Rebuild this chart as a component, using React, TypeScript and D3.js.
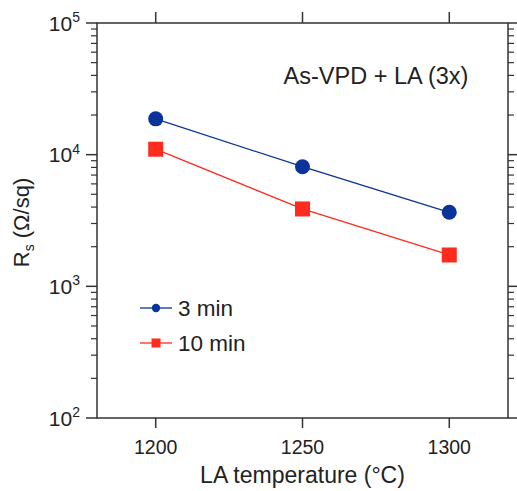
import React from "react";
import * as d3 from "d3";

// LA temperature (°C)
const temperatures = [1200, 1250, 1300];
// sheet resistance Rs (Ω/sq)
const rs3min = [18700, 8100, 3650];
const rs10min = [11000, 3870, 1730];
const xTicks = [1200, 1250, 1300];
const yMajor = [100, 1000, 10000, 100000];

const W = 517;
const H = 491;
const frame = { left: 97, right: 508, top: 23, bottom: 418 };
const font = "'Liberation Sans', Arial, Helvetica, sans-serif";
const axisColor = "#333";
const blue = "#0a3499";
const red = "#ff2b1e";

export default function App() {
  const x = d3.scaleLinear().domain([1180, 1320]).range([frame.left, frame.right]);
  const y = d3.scaleLog().domain([100, 100000]).range([frame.bottom, frame.top]);

  // minor ticks 2..9 in each decade
  const yMinor: number[] = [];
  for (let d = 100; d < 100000; d *= 10) {
    for (let k = 2; k <= 9; k++) yMinor.push(d * k);
  }

  const line = d3
    .line<number>()
    .x((_, i) => x(temperatures[i]))
    .y((d) => y(d));

  const series = [
    { name: "3 min", values: rs3min, color: blue, shape: "circle" },
    { name: "10 min", values: rs10min, color: red, shape: "square" },
  ];

  const legendY = [308, 343];

  return (
    <svg
      width={W}
      height={H}
      style={{ position: "absolute", left: 0, top: 0, background: "#fff" }}
      fontFamily={font}
    >
      {/* frame */}
      <rect
        x={frame.left}
        y={frame.top}
        width={frame.right - frame.left}
        height={frame.bottom - frame.top}
        fill="none"
        stroke={axisColor}
        strokeWidth={1.5}
      />

      {/* y ticks, left and right, outward */}
      {yMajor.map((v) => (
        <g key={"M" + v}>
          <line x1={frame.left - 11} x2={frame.left} y1={y(v)} y2={y(v)} stroke={axisColor} strokeWidth={1.5} />
          <line x1={frame.right} x2={frame.right + 11} y1={y(v)} y2={y(v)} stroke={axisColor} strokeWidth={1.5} />
          <text x={80} y={y(v) + 7.5} textAnchor="end" fontSize={21} fill="#222">
            10
            <tspan fontSize={14} dy={-8.5}>
              {Math.round(Math.log10(v))}
            </tspan>
          </text>
        </g>
      ))}
      {yMinor.map((v) => (
        <g key={"m" + v}>
          <line x1={frame.left - 6} x2={frame.left} y1={y(v)} y2={y(v)} stroke={axisColor} strokeWidth={1.2} />
          <line x1={frame.right} x2={frame.right + 6} y1={y(v)} y2={y(v)} stroke={axisColor} strokeWidth={1.2} />
        </g>
      ))}

      {/* x ticks, top and bottom, outward */}
      {xTicks.map((t) => (
        <g key={"x" + t}>
          <line x1={x(t)} x2={x(t)} y1={frame.top - 11} y2={frame.top} stroke={axisColor} strokeWidth={1.5} />
          <line x1={x(t)} x2={x(t)} y1={frame.bottom} y2={frame.bottom + 10} stroke={axisColor} strokeWidth={1.5} />
          <text x={x(t)} y={454} textAnchor="middle" fontSize={19.5} fill="#222">
            {t}
          </text>
        </g>
      ))}

      {/* axis titles */}
      <text x={(frame.left + frame.right) / 2} y={483} textAnchor="middle" fontSize={23} fill="#222">
        LA temperature (°C)
      </text>
      <text
        transform={`translate(29, ${(frame.top + frame.bottom) / 2 + 2}) rotate(-90)`}
        textAnchor="middle"
        fontSize={22}
        fill="#222"
      >
        R
        <tspan fontSize={14} dy={5}>
          s
        </tspan>
        <tspan dy={-5}> (Ω/sq)</tspan>
      </text>

      {/* annotation */}
      <text x={376} y={84} textAnchor="middle" fontSize={23.5} fill="#222">
        As-VPD + LA (3x)
      </text>

      {/* series */}
      {series.map((s) => (
        <g key={s.name}>
          <path d={line(s.values) || ""} fill="none" stroke={s.color} strokeWidth={1.3} />
          {s.values.map((v, i) =>
            s.shape === "circle" ? (
              <circle key={i} cx={x(temperatures[i])} cy={y(v)} r={7.5} fill={s.color} />
            ) : (
              <rect key={i} x={x(temperatures[i]) - 7.5} y={y(v) - 7.5} width={15} height={15} fill={s.color} />
            )
          )}
        </g>
      ))}

      {/* legend */}
      {series.map((s, i) => (
        <g key={"lg" + s.name} transform={`translate(0, ${legendY[i]})`}>
          <line x1={140} x2={172} y1={0} y2={0} stroke={s.color} strokeWidth={1.3} />
          {s.shape === "circle" ? (
            <circle cx={156} cy={0} r={4.2} fill={s.color} />
          ) : (
            <rect x={151.5} y={-4.5} width={9} height={9} fill={s.color} />
          )}
          <text x={178} y={8} fontSize={22.5} fill="#222">
            {s.name}
          </text>
        </g>
      ))}
    </svg>
  );
}
